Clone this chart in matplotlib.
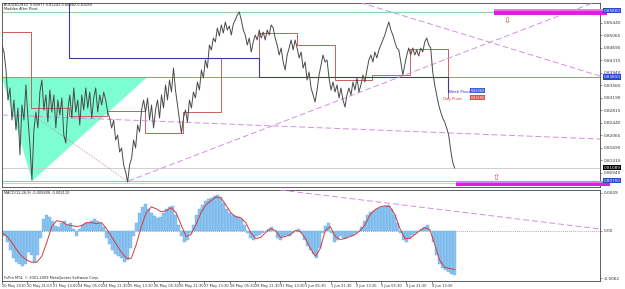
import matplotlib
matplotlib.use("Agg")
import matplotlib.pyplot as plt
import matplotlib.transforms as mtransforms
from matplotlib.patches import Polygon, Rectangle
import numpy as np

# ---- data (AUDUSD M30, 20 May - 4 Jun 2010) ----
date_labels = ["20 May 2010", "20 May 21:00", "21 May 13:00", "24 May 05:00",
               "24 May 21:30", "25 May 13:30", "26 May 05:30", "26 May 21:30",
               "27 May 13:30", "28 May 05:30", "28 May 21:30", "31 May 13:30",
               "1 Jun 05:30", "1 Jun 21:30", "2 Jun 13:30", "3 Jun 05:30",
               "3 Jun 21:30", "4 Jun 13:30"]
bars_per_label = 32
last_bar = 573

close = [
    0.8477, 0.8456, 0.8402, 0.8312, 0.8348, 0.8252, 0.8312, 0.8222, 0.8288, 0.8147,
    0.8297, 0.8252, 0.8357, 0.8258, 0.8177, 0.8072, 0.8222, 0.8276, 0.8228, 0.8336,
    0.8372, 0.8282, 0.8327, 0.8246, 0.8342, 0.8276, 0.8327, 0.8228, 0.8312, 0.8267,
    0.8318, 0.8207, 0.8183, 0.8282, 0.8327, 0.8258, 0.8348, 0.8276, 0.8312, 0.8237,
    0.8327, 0.8282, 0.8348, 0.8288, 0.8336, 0.8258, 0.8318, 0.8348, 0.8276, 0.8327,
    0.8297, 0.8336, 0.8312, 0.8276, 0.8258, 0.8228, 0.8252, 0.8192, 0.8207, 0.8156,
    0.8168, 0.8117, 0.8096, 0.8066, 0.8117, 0.8138, 0.8192, 0.8168, 0.8237, 0.8216,
    0.8282, 0.8312, 0.8276, 0.8318, 0.8252, 0.8297, 0.8228, 0.8282, 0.8312, 0.8258,
    0.8327, 0.8288, 0.8357, 0.8312, 0.8372, 0.8336, 0.8408, 0.8342, 0.8297, 0.8252,
    0.8213, 0.8258, 0.8282, 0.8246, 0.8312, 0.8288, 0.8336, 0.8318, 0.8366, 0.8342,
    0.8402, 0.8378, 0.8432, 0.8408, 0.8477, 0.8462, 0.8498, 0.8486, 0.8528, 0.8504,
    0.8537, 0.8513, 0.8546, 0.8522, 0.8534, 0.8507, 0.8540, 0.8552, 0.8567, 0.8576,
    0.8552, 0.8522, 0.8507, 0.8477, 0.8498, 0.8456, 0.8486, 0.8507, 0.8492, 0.8522,
    0.8498, 0.8516, 0.8492, 0.8522, 0.8507, 0.8537, 0.8528, 0.8498, 0.8477, 0.8447,
    0.8468, 0.8426, 0.8402, 0.8447, 0.8468, 0.8492, 0.8462, 0.8492, 0.8468, 0.8438,
    0.8456, 0.8408, 0.8426, 0.8372, 0.8396, 0.8348, 0.8327, 0.8306, 0.8342, 0.8387,
    0.8417, 0.8447, 0.8426, 0.8432, 0.8378, 0.8342, 0.8366, 0.8336, 0.8357, 0.8318,
    0.8348, 0.8312, 0.8291, 0.8327, 0.8348, 0.8327, 0.8366, 0.8342, 0.8378, 0.8336,
    0.8357, 0.8387, 0.8366, 0.8402, 0.8432, 0.8447, 0.8426, 0.8456, 0.8438, 0.8462,
    0.8477, 0.8492, 0.8507, 0.8528, 0.8546, 0.8522, 0.8507, 0.8486, 0.8468, 0.8462,
    0.8426, 0.8387, 0.8417, 0.8447, 0.8468, 0.8447, 0.8468, 0.8447, 0.8462, 0.8444,
    0.8468, 0.8456, 0.8486, 0.8498, 0.8477, 0.8468, 0.8396, 0.8357, 0.8327, 0.8297,
    0.8276, 0.8258, 0.8246, 0.8228, 0.8207, 0.8162, 0.8126, 0.8108,
]

macd_hist = [
    -0.00026, -0.00078, -0.00156, -0.00260, -0.00364, -0.00416, -0.00442, -0.00468,
    -0.00442, -0.00286, -0.00325, -0.00416, -0.00325, -0.00104, 0.00156, 0.00208,
    0.00182, 0.00130, 0.00065, 0.00052, 0.00104, 0.00130, 0.00078, 0.00104,
    0.00026, -0.00078, 0.00026, 0.00078, 0.00104, 0.00104, 0.00130, 0.00156,
    0.00130, 0.00104, 0.00052, -0.00104, -0.00182, -0.00260, -0.00312, -0.00338,
    -0.00364, -0.00416, -0.00390, -0.00234, -0.00078, 0.00104, 0.00234, 0.00312,
    0.00351, 0.00286, 0.00234, 0.00195, 0.00169, 0.00182, 0.00234, 0.00286,
    0.00312, 0.00325, 0.00208, 0.00078, -0.00078, -0.00156, -0.00130, -0.00026,
    0.00078, 0.00208, 0.00286, 0.00338, 0.00390, 0.00416, 0.00429, 0.00455,
    0.00468, 0.00442, 0.00364, 0.00286, 0.00234, 0.00208, 0.00195, 0.00182,
    0.00156, 0.00078, -0.00026, -0.00104, -0.00130, -0.00078, -0.00052, -0.00026,
    0.00000, 0.00026, 0.00052, 0.00000, -0.00104, -0.00130, -0.00078, -0.00052,
    -0.00078, -0.00026, 0.00000, 0.00026, -0.00026, -0.00130, -0.00208, -0.00260,
    -0.00312, -0.00364, -0.00234, -0.00026, 0.00065, 0.00104, -0.00026, -0.00156,
    -0.00130, -0.00078, -0.00104, -0.00104, -0.00078, -0.00078, -0.00026, 0.00000,
    0.00052, 0.00130, 0.00208, 0.00247, 0.00260, 0.00286, 0.00299, 0.00312,
    0.00325, 0.00338, 0.00286, 0.00208, 0.00104, -0.00026, -0.00130, -0.00156,
    -0.00104, -0.00052, -0.00026, 0.00000, 0.00026, 0.00052, 0.00078, 0.00000,
    -0.00156, -0.00325, -0.00442, -0.00494, -0.00520, -0.00546, -0.00572, -0.00581,
]

macd_signal = [
    -0.00026, -0.00078, -0.00156, -0.00260, -0.00338, -0.00390, -0.00416, -0.00416,
    -0.00338, -0.00156, 0.00052, 0.00130, 0.00117, 0.00078, 0.00065, 0.00052,
    0.00065, 0.00104, 0.00104, 0.00091, 0.00104, 0.00026, -0.00078, -0.00182,
    -0.00286, -0.00364, -0.00364, -0.00182, 0.00052, 0.00234, 0.00312, 0.00286,
    0.00247, 0.00260, 0.00299, 0.00234, 0.00078, -0.00078, -0.00052, 0.00078,
    0.00234, 0.00338, 0.00390, 0.00442, 0.00429, 0.00338, 0.00234, 0.00182,
    0.00169, 0.00104, -0.00026, -0.00104, -0.00091, -0.00026, 0.00026, 0.00000,
    -0.00091, -0.00078, -0.00052, 0.00000, -0.00013, -0.00104, -0.00234, -0.00338,
    -0.00234, 0.00000, 0.00052, -0.00078, -0.00117, -0.00104, -0.00078, -0.00052,
    0.00000, 0.00078, 0.00208, 0.00273, 0.00312, 0.00325, 0.00312, 0.00208,
    0.00026, -0.00104, -0.00104, -0.00052, 0.00000, 0.00039, 0.00013, -0.00182,
    -0.00390, -0.00481, -0.00500, -0.00511,
]

# daily / weekly pivot levels (first day starts at bar 0, next at bar 37, then every 48 bars)
day_pivot = [0.8516, 0.8288, 0.8264, 0.8279, 0.8213, 0.8276, 0.8438, 0.8513,
             0.8477, 0.8372, 0.8387, 0.8465, 0.8318]
week_pivot = [0.8657, 0.8438, 0.8381, 0.8336]
first_day_bar = 37
bars_per_day = 48
days_per_week = 5

# drawn objects: (bar, price) anchors
trend_up = [(160, 0.8069), (500, 0.8378)]
trend_down = [(443, 0.8612), (757, 0.8384)]
trend_flat = [(0, 0.8267), (757, 0.8195)]
dotted_line = [(39, 0.8267), (160, 0.8066)]
triangle = [(0, 0.8381), (184, 0.8381), (38, 0.8069)]
macd_trend = [(352, 0.00533), (763, 0.00013)]

level_top = 0.8576
level_mid = 0.8381
level_low = 0.8069
bid = 0.81089
box_top = (623, 766, 0.8567, 0.8585)
box_low = (575, 770, 0.8054, 0.8069)

price_ticks = [0.85440, 0.85065, 0.84690, 0.84315, 0.83940, 0.83565, 0.83190,
               0.82815, 0.82440, 0.82065, 0.81690, 0.81315, 0.80940]

# ---- figure ----
W, H = 625, 289
fig = plt.figure(figsize=(W / 100, H / 100), dpi=100)
plt.rcParams["font.family"] = ["DejaVu Sans"]

SMALL = 2.5   # the MT4 pixel font is tiny at this size


def frac(x, y):
    return x / W, 1 - y / H


ax = fig.add_axes([2 / W, 1 - 187 / H, 598 / W, 184 / H])
ax2 = fig.add_axes([2 / W, 1 - 281 / H, 598 / W, 91 / H])

xmax = 757
for a in (ax, ax2):
    a.set_xlim(0, xmax)
    for s in a.spines.values():
        s.set_color("#444444")
        s.set_linewidth(0.6)
    a.yaxis.tick_right()
    a.tick_params(axis="y", labelsize=3.1, length=1.5, width=0.4, pad=1,
                  colors="#333333")

ax.set_ylim(0.8051, 0.8603)
ax2.set_ylim(-0.00663, 0.00533)

# teal triangle behind the price
ax.add_patch(Polygon(triangle, closed=True, fc="#7dfdd2", ec="none", zorder=1))

# horizontal levels
ax.axhline(level_top, color="#8fd4a6", lw=0.8, zorder=2)
ax.axhline(level_mid, color="#8c8ce0", lw=0.7, zorder=2)
ax.axhline(bid, color="#c8c8c8", lw=0.6, zorder=2)
ax.axhline(level_low, color="#8fd4a6", lw=0.8, zorder=2)
ax.axhline(level_low - 0.0006, color="#bbbbbb", lw=0.5, zorder=2)

# pivots as step lines
day_edges = np.r_[0, first_day_bar + bars_per_day * np.arange(len(day_pivot) - 1)]
xs, ys = [], []
for k in range(len(day_pivot) - 1):
    xs += [day_edges[k], day_edges[k + 1]]
    ys += [day_pivot[k], day_pivot[k]]
xs.append(day_edges[-1])
ys.append(day_pivot[-1])
ax.plot(xs, ys, color="#c96060", lw=0.7, zorder=3)

week_edges = np.r_[0, first_day_bar + bars_per_day * (1 + days_per_week * np.arange(len(week_pivot) - 1))]
xs, ys = [], []
for k in range(len(week_pivot) - 1):
    xs += [week_edges[k], week_edges[k + 1]]
    ys += [week_pivot[k], week_pivot[k]]
xs.append(week_edges[-1])
ys.append(week_pivot[-1])
ax.plot(xs, ys, color="#3a3aa0", lw=0.8, zorder=3)


def ray(a, p0, p1, **kw):
    (x0, y0), (x1, y1) = p0, p1
    slope = (y1 - y0) / (x1 - x0)
    a.plot([x0, xmax + 20], [y0, y0 + slope * (xmax + 20 - x0)], **kw)


dash = dict(color="#d48ee0", lw=0.7, ls=(0, (6, 3)), zorder=3)
ray(ax, *trend_up, **dash)
ray(ax, *trend_down, **dash)
ray(ax, *trend_flat, **dash)
ax.plot(*zip(*dotted_line), color="#c08080", lw=0.6, ls=(0, (1, 1.5)), zorder=3)

# price
px = np.linspace(0, last_bar, len(close))
ax.plot(px, close, color="#4a4a4a", lw=0.7, zorder=4)

# magenta boxes
for x0, x1, y0, y1 in (box_top, box_low):
    ax.add_patch(Rectangle((x0, y0), x1 - x0, y1 - y0, fc="#e01ee0", ec="none",
                           zorder=5, clip_on=False))
    ax.add_patch(Rectangle((x0, y1 - (y1 - y0) * 0.35), x1 - x0, (y1 - y0) * 0.35,
                           fc="#f070f0", ec="none", zorder=5, clip_on=False))
ax.text(639, 0.8549, "\u21e9", color="#c04040", fontsize=6, ha="center", va="center", zorder=6)
ax.text(625, 0.8080, "\u21e7", color="#c04040", fontsize=6, ha="center", va="center", zorder=6)

# pivot labels
ax.text(565, week_pivot[-1], "Week Pivot", color="#3030c0", fontsize=2.9,
        ha="left", va="center", zorder=6)
ax.text(558, day_pivot[-1] - 0.0002, "Day Pivot", color="#d04040", fontsize=2.9,
        ha="left", va="center", zorder=6)
ax.text(593, week_pivot[-1] + 0.0004, "%.5f" % week_pivot[-1], color="white", fontsize=2.4,
        ha="left", va="center", zorder=6,
        bbox=dict(fc="#4060d0", ec="none", pad=0.2))
ax.text(593, day_pivot[-1] + 0.0001, "%.5f" % day_pivot[-1], color="white", fontsize=2.4,
        ha="left", va="center", zorder=6,
        bbox=dict(fc="#e05050", ec="none", pad=0.2))

# price axis
ax.set_yticks(price_ticks)
ax.set_yticklabels(["%.5f" % p for p in price_ticks])
ax.set_xticks([])
tr = mtransforms.blended_transform_factory(ax.transAxes, ax.transData)
for val, fc in ((0.8580, "#2848c8"), (level_mid, "#2848c8"), (bid, "#000000"),
                (level_low + 0.0001, "#2848c8")):
    ax.text(1.006, val, "%.5f" % val, transform=tr, color="white", fontsize=3.0,
            ha="left", va="center", zorder=7, clip_on=False,
            bbox=dict(fc=fc, ec="none", pad=0.4))

# ---- MACD ----
hx = np.linspace(0, last_bar, len(macd_hist))
ax2.bar(hx, macd_hist, width=hx[1] - hx[0], color="#8cc4f0", edgecolor="#6aaee8",
        linewidth=0.3, zorder=2)
sx = np.linspace(0, last_bar, len(macd_signal))
ax2.plot(sx, macd_signal, color="#d23c3c", lw=0.7, zorder=3)
ax2.axhline(0, color="#b080a8", lw=0.6, ls=(0, (1, 1.5)), zorder=1)
ray(ax2, *macd_trend, **dash)
ax2.set_yticks([0.00494, 0.0, -0.00624])
ax2.set_yticklabels(["0.0049", "0.00", "-0.0062"])

ticks = bars_per_label * np.arange(len(date_labels))
ax2.set_xticks(ticks)
ax2.set_xticklabels(date_labels, ha="left")
ax2.tick_params(axis="x", labelsize=2.6, length=2, width=0.4, pad=0.3,
                colors="#333333")

# header texts
fig.text(*frac(4, 4.5), "AUDUSD,M30  0.80977 0.81243 0.80982 0.81089",
         fontsize=SMALL, va="center", color="#222222")
fig.text(*frac(4, 9.5), "Madden After Pivot", fontsize=SMALL, va="center", color="#222222")
fig.text(*frac(4, 193.5), "MACD(12,26,9) -0.005808 -0.005110", fontsize=SMALL,
         va="center", color="#222222")
fig.text(*frac(4, 277.5), "FxPro MT4, \u00a9 2001-2009 MetaQuotes Software Corp.",
         fontsize=SMALL, va="center", color="#222222")

fig.savefig("out.png", dpi=100)
